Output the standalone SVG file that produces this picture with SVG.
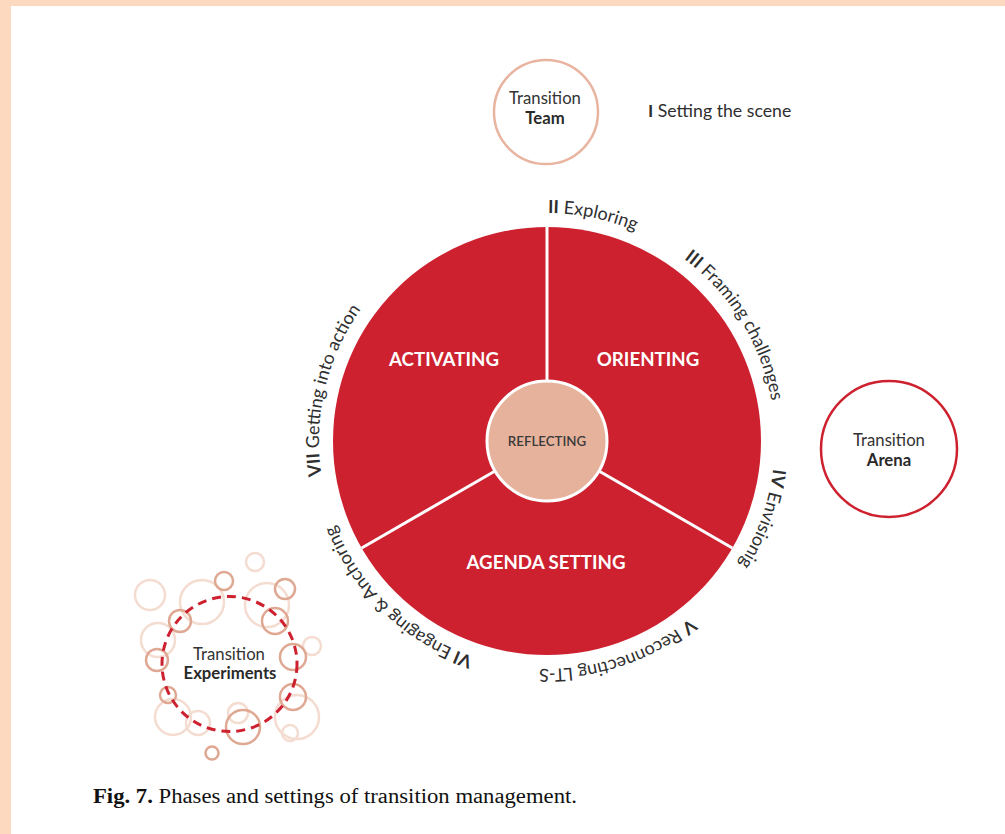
<svg xmlns="http://www.w3.org/2000/svg" xmlns:xlink="http://www.w3.org/1999/xlink" width="1005" height="834" viewBox="0 0 1005 834">
<style>
.arc{font-family:Lato,"Open Sans",sans-serif;font-size:18px;fill:#2f2f2f;}
.num{font-weight:bold;}
.sector{font-family:Lato,"Open Sans",sans-serif;font-size:18.7px;font-weight:bold;fill:#ffffff;text-anchor:middle;}
.lbl{font-family:Lato,"Open Sans",sans-serif;font-size:16.7px;fill:#333333;text-anchor:middle;}
.lblb{font-family:Lato,"Open Sans",sans-serif;font-size:16.7px;font-weight:bold;fill:#2a2a2a;text-anchor:middle;}
.light{fill:none;stroke:#F4DCD1;stroke-width:2.5;}
.dark{fill:none;stroke:#DFA892;stroke-width:2.5;}
.div{stroke:#ffffff;stroke-width:3;}
</style>
<defs>
<path id="ring" d="M547,213 A228,228 0 1 1 547,669 A228,228 0 1 1 547,213"/>
</defs>
<rect x="0" y="0" width="1005" height="834" fill="#FDD9C0"/>
<rect x="11" y="6" width="994" height="828" fill="#ffffff"/>

<g id="wheel">
<circle cx="547" cy="441" r="214" fill="#CD212F"/>
</g>
<g id="connectors">
<line class="div" x1="547" y1="441" x2="547" y2="226"/>
<line class="div" x1="547" y1="441" x2="732.3" y2="548"/>
<line class="div" x1="547" y1="441" x2="361.7" y2="548"/>
</g>
<g id="activating"><text class="sector" x="444" y="366">ACTIVATING</text></g>
<g id="orienting"><text class="sector" x="648" y="366">ORIENTING</text></g>
<g id="agenda"><text class="sector" x="546" y="569">AGENDA SETTING</text></g>
<g id="reflecting">
<circle cx="547" cy="441" r="60" fill="#E6B29C" stroke="#ffffff" stroke-width="3"/>
<text x="547" y="445.5" font-family="Lato,'Open Sans',sans-serif" font-size="13.3" font-weight="600" fill="#3a3a3a" text-anchor="middle">REFLECTING</text>
</g>

<g id="phase-labels">
<text class="arc"><textPath xlink:href="#ring" href="#ring" startOffset="1"><tspan class="num">II</tspan> Exploring</textPath></text>
<text class="arc"><textPath xlink:href="#ring" href="#ring" startOffset="147"><tspan class="num">III</tspan> Framing challenges</textPath></text>
<text class="arc"><textPath xlink:href="#ring" href="#ring" startOffset="386"><tspan class="num">IV</tspan> Envisionig</textPath></text>
<text class="arc"><textPath xlink:href="#ring" href="#ring" startOffset="561"><tspan class="num">V</tspan> Reconnecting LT-S</textPath></text>
<text class="arc"><textPath xlink:href="#ring" href="#ring" startOffset="791"><tspan class="num">VI</tspan> Engaging &amp; Anchoring</textPath></text>
<text class="arc"><textPath xlink:href="#ring" href="#ring" startOffset="1039"><tspan class="num">VII</tspan> Getting into action</textPath></text>
</g>

<g id="team">
<circle cx="546" cy="112" r="52" fill="none" stroke="#E8B4A0" stroke-width="2.5"/>
<text class="lbl" x="545" y="104">Transition</text>
<text class="lblb" x="545" y="124">Team</text>
</g>
<g id="setting-scene">
<text x="648" y="117" font-family="Lato,'Open Sans',sans-serif" font-size="17.7" fill="#2f2f2f"><tspan font-weight="bold">I</tspan> Setting the scene</text>
</g>

<g id="arena">
<circle cx="889" cy="449" r="68" fill="none" stroke="#CD212F" stroke-width="2.5"/>
<text class="lbl" x="889" y="446">Transition</text>
<text class="lblb" x="889" y="466">Arena</text>
</g>

<g id="experiments">
<circle class="light" cx="150" cy="595" r="15"/>
<circle class="light" cx="202" cy="602" r="22"/>
<circle class="light" cx="267" cy="605" r="22"/>
<circle class="light" cx="255" cy="562" r="9"/>
<circle class="light" cx="158" cy="640" r="17"/>
<circle class="light" cx="312" cy="646" r="9"/>
<circle class="light" cx="173" cy="717" r="18"/>
<circle class="light" cx="198" cy="723" r="12"/>
<circle class="light" cx="297" cy="717" r="22"/>
<circle class="light" cx="238" cy="713" r="10"/>
<circle class="light" cx="290" cy="733" r="8"/>
<circle class="dark" cx="285" cy="589" r="10"/>
<circle class="dark" cx="224" cy="581" r="9"/>
<circle class="dark" cx="180" cy="621" r="11"/>
<circle class="dark" cx="275" cy="621" r="13"/>
<circle class="dark" cx="157" cy="660" r="11"/>
<circle class="dark" cx="293" cy="657" r="13"/>
<circle class="dark" cx="168" cy="695" r="8"/>
<circle class="dark" cx="243" cy="727" r="17"/>
<circle class="dark" cx="293" cy="697" r="13"/>
<circle class="dark" cx="212" cy="753" r="6.5"/>
<circle cx="229.5" cy="664" r="67.5" fill="none" stroke="#CD212F" stroke-width="3" stroke-dasharray="9 6"/>
<text class="lbl" x="229" y="660">Transition</text>
<text class="lblb" x="230" y="679">Experiments</text>
</g>

<g id="caption">
<text x="93" y="803" font-family="'Liberation Serif','Times New Roman',serif" font-size="20" fill="#111111" textLength="484" lengthAdjust="spacingAndGlyphs"><tspan font-weight="bold">Fig. 7.</tspan> Phases and settings of transition management.</text>
</g>
</svg>
